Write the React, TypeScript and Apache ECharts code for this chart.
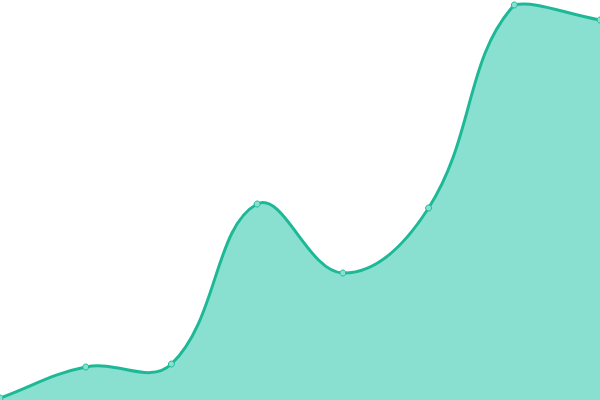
import { useEffect, useRef } from 'react'
import * as echarts from 'echarts'

const categories = ['1', '2', '3', '4', '5', '6', '7', '8']
const values = [2, 33, 36, 196, 127, 192, 395, 380]

const LINE = '#1db996'
const FILL = '#8ae0d0'
const TENSION = 0.4

// cardinal-style spline control points, same as a tension-based bezier curve
function buildPaths(pts: number[][], top: number, bottom: number, left: number, right: number) {
  const clampX = (x: number) => Math.min(Math.max(x, left), right)
  const clampY = (y: number) => Math.min(Math.max(y, top), bottom)
  const cps = pts.map((p, i) => {
    const prev = pts[i - 1] || p
    const next = pts[i + 1] || p
    const d01 = Math.hypot(p[0] - prev[0], p[1] - prev[1])
    const d12 = Math.hypot(next[0] - p[0], next[1] - p[1])
    let s01 = d01 / (d01 + d12)
    let s12 = d12 / (d01 + d12)
    if (isNaN(s01)) s01 = 0
    if (isNaN(s12)) s12 = 0
    const fa = TENSION * s01
    const fb = TENSION * s12
    return {
      prev: [clampX(p[0] - fa * (next[0] - prev[0])), clampY(p[1] - fa * (next[1] - prev[1]))],
      next: [clampX(p[0] + fb * (next[0] - prev[0])), clampY(p[1] + fb * (next[1] - prev[1]))],
    }
  })
  let d = `M${pts[0][0]},${pts[0][1]}`
  for (let i = 1; i < pts.length; i++) {
    const a = cps[i - 1].next
    const b = cps[i].prev
    d += ` C${a[0]},${a[1]} ${b[0]},${b[1]} ${pts[i][0]},${pts[i][1]}`
  }
  const last = pts[pts.length - 1]
  const area = `${d} L${last[0]},${bottom} L${pts[0][0]},${bottom} Z`
  return { line: d, area }
}

export default function App() {
  const ref = useRef<HTMLDivElement>(null)

  useEffect(() => {
    document.body.style.margin = '0'
    if (!ref.current) return
    const chart = echarts.init(ref.current, null, { renderer: 'svg' })
    chart.setOption({
      animation: false,
      grid: { left: 0, right: 0, top: 0, bottom: 0 },
      xAxis: {
        type: 'category',
        data: categories,
        boundaryGap: false,
        show: false,
      },
      yAxis: { type: 'value', min: 0, max: 400, show: false },
      series: [
        {
          type: 'custom',
          data: values.map((v, i) => [i, v]),
          encode: { x: 0, y: 1 },
          clip: false,
          renderItem: (params: any, api: any) => {
            if (params.dataIndex !== 0) return null
            const cs = params.coordSys
            const pts = values.map((v, i) => api.coord([i, v]))
            const { line, area } = buildPaths(pts, cs.y, cs.y + cs.height, cs.x, cs.x + cs.width)
            return {
              type: 'group',
              children: [
                { type: 'path', shape: { pathData: area }, style: { fill: FILL, stroke: 'none' } },
                {
                  type: 'path',
                  shape: { pathData: line },
                  style: { fill: 'none', stroke: LINE, lineWidth: 3 },
                },
              ],
            }
          },
        },
        {
          type: 'line',
          data: values,
          symbol: 'circle',
          symbolSize: 6,
          showAllSymbol: true,
          lineStyle: { opacity: 0 },
          itemStyle: { color: FILL, borderColor: LINE, borderWidth: 1 },
          z: 5,
        },
      ],
    })
    return () => chart.dispose()
  }, [])

  return <div ref={ref} style={{ width: 600, height: 400 }} />
}
